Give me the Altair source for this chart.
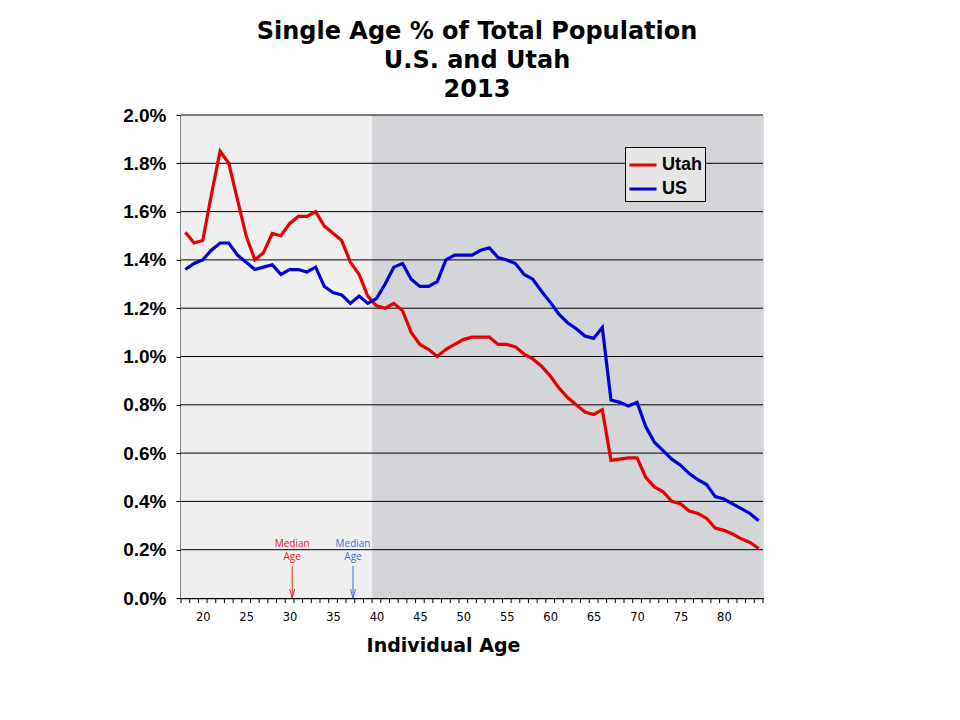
import altair as alt
import pandas as pd

ages = list(range(18, 85))
utah = [1.515, 1.47, 1.48, 1.67, 1.85, 1.80, 1.65, 1.50, 1.40, 1.43,
        1.51, 1.50, 1.55, 1.58, 1.58, 1.60, 1.54, 1.51, 1.48, 1.39,
        1.34, 1.25, 1.21, 1.20, 1.22, 1.19, 1.10, 1.05, 1.03, 1.00,
        1.03, 1.05, 1.07, 1.08, 1.08, 1.08, 1.05, 1.05, 1.04, 1.01,
        0.99, 0.96, 0.92, 0.87, 0.83, 0.80, 0.77, 0.76, 0.78, 0.57,
        0.575, 0.58, 0.58, 0.50, 0.46, 0.44, 0.40, 0.39, 0.36, 0.35,
        0.33, 0.29, 0.28, 0.265, 0.245, 0.23, 0.205]
us = [1.36, 1.385, 1.40, 1.44, 1.47, 1.47, 1.42, 1.39, 1.36, 1.37,
      1.38, 1.34, 1.36, 1.36, 1.35, 1.37, 1.29, 1.265, 1.255, 1.22,
      1.25, 1.22, 1.24, 1.30, 1.37, 1.385, 1.32, 1.29, 1.29, 1.31,
      1.40, 1.42, 1.42, 1.42, 1.44, 1.45, 1.41, 1.40, 1.385, 1.34,
      1.32, 1.27, 1.225, 1.175, 1.14, 1.115, 1.085, 1.075, 1.12, 0.82,
      0.81, 0.795, 0.81, 0.71, 0.645, 0.61, 0.575, 0.55, 0.515, 0.49,
      0.47, 0.42, 0.41, 0.39, 0.37, 0.35, 0.32]

series_names = ["Utah", "US"]
series_colors = ["#e60000", "#0000d8"]

gridlines = [0.2, 0.4, 0.6, 0.8, 1.0, 1.2, 1.4, 1.6, 1.8, 2.0]
y_ticks = [0.0, 0.2, 0.4, 0.6, 0.8, 1.0, 1.2, 1.4, 1.6, 1.8, 2.0]
x_labels = [20, 25, 30, 35, 40, 45, 50, 55, 60, 65, 70, 75, 80]
x_minor = [v + 0.5 for v in range(17, 85)]
bg_start = [17.5, 39.5]
bg_end = [39.5, 84.5]
bg_color = ["#efefef", "#d3d5d9"]

median_labels = ["Utah", "US"]
median_ages = [30.3, 37.3]
median_colors = ["#e62020", "#3a6fd8"]

rows = []
for a, u, s in zip(ages, utah, us):
    rows.append({"age": a, "pct": u, "series": "Utah"})
    rows.append({"age": a, "pct": s, "series": "US"})
df = pd.DataFrame(rows)

bg = pd.DataFrame({"x": bg_start, "x2": bg_end, "c": bg_color})
grid = pd.DataFrame({"y": gridlines})
minor = pd.DataFrame({"x": x_minor})
med = pd.DataFrame({"age": median_ages, "c": median_colors, "who": median_labels})
med_text = pd.DataFrame({
    "age": [median_ages[0], median_ages[0], median_ages[1], median_ages[1]],
    "y": [0.224, 0.17, 0.224, 0.17],
    "t": ["Median", "Age", "Median", "Age"],
    "c": [median_colors[0], median_colors[0], median_colors[1], median_colors[1]],
})

xscale = alt.Scale(domain=[17.5, 84.5], nice=False, zero=False)
yscale = alt.Scale(domain=[0, 2.0], nice=False)

xaxis = alt.Axis(
    values=x_labels,
    format="d",
    labelOverlap=False,
    ticks=False, domainColor="black", domainWidth=1.5,
    labelFont="DejaVu Sans", labelFontSize=11.5, labelColor="black", labelPadding=13,
    grid=False,
    title="Individual Age", titleFont="DejaVu Sans", titleFontSize=19,
    titleFontWeight="bold", titleColor="black",
    titleX=262, titleY=47, titleBaseline="middle", titleAlign="center",
)
yaxis = alt.Axis(
    values=y_ticks,
    labelExpr="format(datum.value, '.1f') + '%'",
    labelFont="Liberation Sans", labelFontSize=19, labelFontWeight="bold",
    labelColor="black", labelPadding=10,
    tickSize=5, tickColor="black", domainColor="black", domainWidth=2,
    grid=False, title=None,
)

bg_layer = alt.Chart(bg).mark_rect().encode(
    x=alt.X("x:Q", scale=xscale, axis=xaxis),
    x2="x2:Q",
    y=alt.value(0), y2=alt.value(483),
    fill=alt.Fill("c:N", scale=None, legend=None),
)

grid_layer = alt.Chart(grid).mark_rule(color="black", strokeWidth=1).encode(
    y=alt.Y("y:Q", scale=yscale, axis=yaxis),
)

minor_layer = alt.Chart(minor).mark_rule(color="black", strokeWidth=1).encode(
    x=alt.X("x:Q", scale=xscale, axis=xaxis),
    y=alt.value(483), y2=alt.value(488),
)

lines = alt.Chart(df).mark_line(strokeWidth=3.2).encode(
    x=alt.X("age:Q", scale=xscale, axis=xaxis),
    y=alt.Y("pct:Q", scale=yscale, axis=yaxis),
    color=alt.Color(
        "series:N",
        scale=alt.Scale(domain=series_names, range=series_colors),
        legend=alt.Legend(
            title=None, orient="none", legendX=444, legendY=32,
            symbolType="stroke", symbolSize=729, symbolStrokeWidth=3,
            labelFont="Liberation Sans", labelFontSize=18, labelFontWeight="bold",
            labelColor="black", fillColor="#e6e6e6", strokeColor="black",
            padding=3, rowPadding=0, labelOffset=4,
        ),
    ),
    order="age:Q",
)

arrows = alt.Chart(med).mark_rule(strokeWidth=1).encode(
    x=alt.X("age:Q", scale=xscale, axis=xaxis),
    y=alt.datum(0.1325, scale=yscale, axis=yaxis),
    y2=alt.datum(0.0),
    stroke=alt.Stroke("c:N", scale=None, legend=None),
)
heads = alt.Chart(med).mark_point(
    shape="M-1,-3.6L0,0L1,-3.6", size=25, filled=False, strokeWidth=1, opacity=1
).encode(
    x=alt.X("age:Q", scale=xscale, axis=xaxis),
    y=alt.datum(0.0, scale=yscale, axis=yaxis),
    stroke=alt.Stroke("c:N", scale=None, legend=None),
)
texts = alt.Chart(med_text).mark_text(font="Open Sans", fontSize=10).encode(
    x=alt.X("age:Q", scale=xscale, axis=xaxis),
    y=alt.Y("y:Q", scale=yscale, axis=yaxis),
    text="t:N",
    fill=alt.Fill("c:N", scale=None, legend=None),
)

chart = alt.layer(bg_layer, grid_layer, minor_layer, lines, arrows, heads, texts).resolve_scale(
    color="independent", fill="independent", stroke="independent"
).properties(
    width=582, height=483,
    autosize=alt.AutoSizeParams(type="none"),
    padding={"left": 173, "top": 107, "right": 189, "bottom": 114},
    title=alt.TitleParams(
        text=["Single Age % of Total Population", "U.S. and Utah", "2013"],
        font="DejaVu Sans", fontSize=24, fontWeight="bold", color="black",
        lineHeight=29, anchor="middle", offset=4, dx=5,
    ),
).configure_view(stroke="black", strokeWidth=1.5).configure(background="white")

chart.save("out.html", embed_options={"renderer": "svg", "actions": False})
